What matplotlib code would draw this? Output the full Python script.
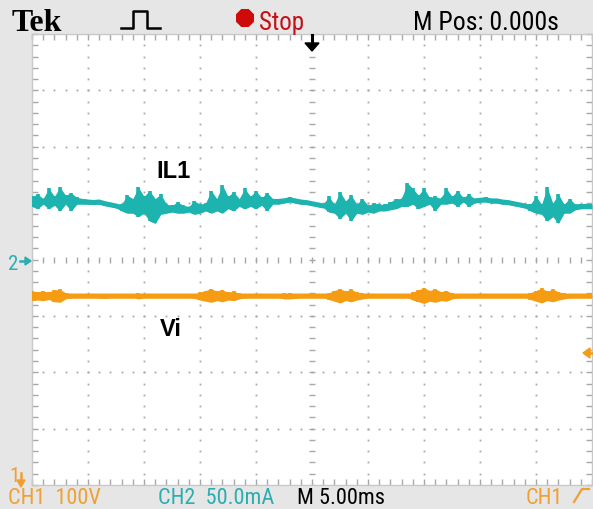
import numpy as np
import matplotlib
matplotlib.use("Agg")
import matplotlib.pyplot as plt
from matplotlib import font_manager
from matplotlib.lines import Line2D
from matplotlib.patches import RegularPolygon, Polygon

t_ms = np.arange(0, 50.01, 0.5)          # 5 ms/div, 10 divisions

il1_upper_mA = [56, 58, 54, 63, 56, 64, 57, 59, 55, 54,
                53, 52, 53, 51, 50, 49, 49, 57, 54, 64,
                56, 61, 54, 58, 49, 48, 51, 48, 47, 52,
                49, 50, 61, 54, 66, 56, 60, 54, 63, 56,
                61, 55, 59, 54, 54, 54, 55, 54, 53, 52,
                51, 50, 49, 56, 49, 60, 52, 57, 49, 54,
                48, 50, 49, 49, 51, 54, 54, 68, 63, 57,
                63, 55, 56, 54, 63, 56, 61, 55, 58, 54,
                54, 55, 54, 54, 53, 52, 51, 50, 49, 49,
                56, 49, 64, 50, 58, 49, 54, 49, 49, 49,
                49]
il1_lower_mA = [47, 45, 49, 45, 48, 43, 49, 43, 49, 49,
                49, 49, 49, 48, 47, 46, 43, 41, 41, 38,
                41, 34, 32, 40, 41, 42, 41, 41, 42, 40,
                41, 43, 41, 43, 41, 45, 43, 47, 45, 47,
                45, 48, 43, 49, 49, 50, 51, 50, 49, 49,
                48, 47, 46, 42, 41, 36, 41, 34, 41, 40,
                42, 41, 43, 43, 44, 45, 47, 47, 49, 45,
                47, 49, 43, 49, 49, 50, 47, 51, 47, 50,
                51, 51, 50, 50, 49, 49, 48, 47, 46, 43,
                41, 40, 34, 38, 32, 41, 41, 44, 45, 45,
                45]

vi_upper_V = [344, 343, 344, 342, 346, 347, 341, 338, 337, 337,
              337, 337, 338, 339, 337, 337, 337, 337, 337, 340,
              338, 337, 337, 337, 337, 337, 337, 337, 337, 339,
              342, 345, 348, 344, 346, 342, 344, 340, 338, 337,
              337, 337, 337, 337, 337, 340, 340, 339, 337, 337,
              337, 337, 337, 341, 345, 348, 344, 347, 342, 340,
              338, 337, 337, 337, 337, 337, 337, 337, 342, 346,
              350, 345, 348, 343, 345, 340, 338, 337, 337, 337,
              337, 337, 337, 337, 337, 337, 337, 337, 337, 341,
              345, 349, 344, 347, 343, 340, 338, 337, 337, 337,
              337]
vi_lower_V = [327, 328, 327, 329, 325, 324, 330, 332, 333, 333,
              333, 333, 332, 331, 333, 333, 333, 333, 333, 330,
              332, 333, 333, 333, 333, 333, 333, 333, 333, 331,
              328, 326, 324, 327, 325, 328, 327, 330, 332, 333,
              333, 333, 333, 333, 333, 330, 330, 331, 333, 333,
              333, 333, 333, 329, 326, 323, 327, 325, 328, 330,
              332, 333, 333, 333, 333, 333, 333, 333, 328, 325,
              322, 326, 324, 327, 326, 330, 332, 333, 333, 333,
              333, 333, 333, 333, 333, 333, 333, 333, 333, 329,
              326, 323, 327, 325, 328, 330, 332, 333, 333, 333,
              333]

ch1_scale_V = 100.0     # V/div
ch2_scale_mA = 50.0     # mA/div
ch1_ground_div = -4.0   # CH1 ground marker at bottom
ch2_ground_div = 0.0    # CH2 ground marker at centre

status_top = ["Tek", "Stop", "M Pos: 0.000s"]
status_bottom = ["CH1  100V", "CH2  50.0mA", "M 5.00ms", "CH1"]

# ---------------- styling ----------------
W, H = 593, 510
TEAL = "#1db3ae"
ORANGE = "#f59c12"
ORANGE_TXT = "#f0a030"
TEAL_TXT = "#2aaeb0"
GRID = "#a8a8a8"
BG = "#e6e6e6"

names = {f.name for f in font_manager.fontManager.ttflist}
narrow = next((n for n in ["Liberation Sans Narrow", "Roboto Condensed", "Open Sans Condensed"]
               if n in names), "DejaVu Sans")
sans_bold = "Liberation Sans" if "Liberation Sans" in names else "DejaVu Sans"
serif = "Liberation Serif" if "Liberation Serif" in names else "DejaVu Serif"

fig = plt.figure(figsize=(W / 100, H / 100), dpi=100, facecolor=BG)


def fx(x):
    return x / W


def fy(y):
    return 1 - y / H


L, R, T, B = 32, 592, 35, 486
ax = fig.add_axes([fx(L), fy(B), (R - L) / W, (B - T) / H])
ax.set_facecolor("white")
ax.set_xlim(0, 50)
ax.set_ylim(-4, 4)

# graticule: dotted lines every division, dots every 1/5 division
xd = np.arange(0, 50.01, 1.0)
yd = np.arange(-4, 4.01, 0.2)
for gx in range(5, 50, 5):
    if gx == 25:
        ax.plot([gx] * len(yd), yd, ls="none", marker="_", ms=4, mew=1.0, color=GRID, zorder=1)
    else:
        ax.plot([gx] * len(yd), yd, ls="none", marker="s", ms=1.3, mew=0, color=GRID, zorder=1)
for gy in range(-3, 4):
    if gy == 0:
        ax.plot(xd, [gy] * len(xd), ls="none", marker="|", ms=4, mew=1.0, color=GRID, zorder=1)
    else:
        ax.plot(xd, [gy] * len(xd), ls="none", marker="s", ms=1.3, mew=0, color=GRID, zorder=1)

ax.set_xticks(np.arange(0, 50.01, 5))
ax.set_xticks(np.arange(0, 50.01, 1), minor=True)
ax.set_yticks(np.arange(-4, 4.01, 1))
ax.set_yticks(np.arange(-4, 4.01, 0.2), minor=True)
ax.tick_params(which="both", direction="in", top=True, right=True, bottom=True, left=True,
               length=4, width=1.0, color=GRID, labelbottom=False, labelleft=False)
for s in ax.spines.values():
    s.set_color("#c8c8c8")
    s.set_linewidth(1.0)

# traces
il1_up = np.array(il1_upper_mA) / ch2_scale_mA + ch2_ground_div
il1_lo = np.array(il1_lower_mA) / ch2_scale_mA + ch2_ground_div
vi_up = np.array(vi_upper_V) / ch1_scale_V + ch1_ground_div
vi_lo = np.array(vi_lower_V) / ch1_scale_V + ch1_ground_div

ax.fill_between(t_ms, il1_lo, il1_up, color=TEAL, lw=0, zorder=3)
ax.vlines(t_ms, il1_lo, il1_up, color=TEAL, lw=2.6, zorder=3)
ax.plot(t_ms, (il1_lo + il1_up) / 2, color=TEAL, lw=3.6, zorder=3, solid_capstyle="butt")
ax.fill_between(t_ms, vi_lo, vi_up, color=ORANGE, lw=0, zorder=3)
ax.vlines(t_ms, vi_lo, vi_up, color=ORANGE, lw=2.6, zorder=3)
ax.plot(t_ms, (vi_lo + vi_up) / 2, color=ORANGE, lw=3.8, zorder=3, solid_capstyle="butt")

# labels on the screen
fig.text(fx(156), fy(178), "IL1", family=sans_bold, weight="bold", fontsize=17, color="black")
fig.text(fx(160), fy(336), "Vi", family=sans_bold, weight="bold", fontsize=17, color="black")

# ---------------- status bars ----------------
fig.text(fx(12), fy(31), status_top[0], family=serif, weight="bold", fontsize=23, color="black")
fig.add_artist(Line2D([fx(p) for p in (121, 133, 133, 147, 147, 160)],
                      [fy(p) for p in (29, 29, 12, 12, 29, 29)],
                      transform=fig.transFigure, color="black", lw=1.8))
fig.add_artist(RegularPolygon((245 / 100, (H - 19) / 100), 8, radius=0.09,
                              orientation=np.pi / 8, transform=fig.dpi_scale_trans,
                              color="#cf0a0a"))
fig.text(fx(259), fy(30), status_top[1], family=narrow, fontsize=18, color="#c41018")
fig.text(fx(413), fy(30), status_top[2], family=narrow, fontsize=18.5, color="black")

fig.text(fx(8), fy(504), status_bottom[0], family=narrow, fontsize=16, color=ORANGE_TXT)
fig.text(fx(158), fy(504), status_bottom[1], family=narrow, fontsize=16, color=TEAL_TXT)
fig.text(fx(297), fy(504), status_bottom[2], family=narrow, fontsize=16, color="black")
fig.text(fx(526), fy(504), status_bottom[3], family=narrow, fontsize=16, color=ORANGE_TXT)
fig.add_artist(Line2D([fx(p) for p in (574, 582, 589)], [fy(p) for p in (503, 490, 490)],
                      transform=fig.transFigure, color=ORANGE_TXT, lw=1.6))

# trigger position arrow (top centre)
fig.add_artist(Line2D([fx(312), fx(312)], [fy(36), fy(45)], transform=fig.transFigure,
                      color="black", lw=2.2))
fig.add_artist(Polygon([(fx(305), fy(44)), (fx(319), fy(44)), (fx(312), fy(52))],
                       closed=True, transform=fig.transFigure, color="black"))

# channel ground markers
fig.text(fx(8), fy(270), "2", family=narrow, fontsize=15, color=TEAL_TXT)
fig.add_artist(Line2D([fx(20), fx(26)], [fy(262), fy(262)], transform=fig.transFigure,
                      color=TEAL_TXT, lw=1.8))
fig.add_artist(Polygon([(fx(25), fy(258)), (fx(25), fy(266)), (fx(31), fy(262))],
                       closed=True, transform=fig.transFigure, color=TEAL_TXT))
fig.text(fx(9), fy(482), "1", family=narrow, fontsize=15, color=ORANGE_TXT)
fig.add_artist(Line2D([fx(21), fx(21)], [fy(474), fy(482)], transform=fig.transFigure,
                      color=ORANGE_TXT, lw=1.8))
fig.add_artist(Polygon([(fx(17), fy(481)), (fx(25), fy(481)), (fx(21), fy(488))],
                       closed=True, transform=fig.transFigure, color=ORANGE_TXT))

# trigger level marker (right)
fig.add_artist(Polygon([(fx(583), fy(354)), (fx(590), fy(349)), (fx(590), fy(359))],
                       closed=True, transform=fig.transFigure, color=ORANGE))
fig.add_artist(Line2D([fx(589), fx(593)], [fy(354), fy(354)], transform=fig.transFigure,
                      color=ORANGE, lw=1.8))

fig.savefig("out.png", dpi=100, facecolor=BG)
